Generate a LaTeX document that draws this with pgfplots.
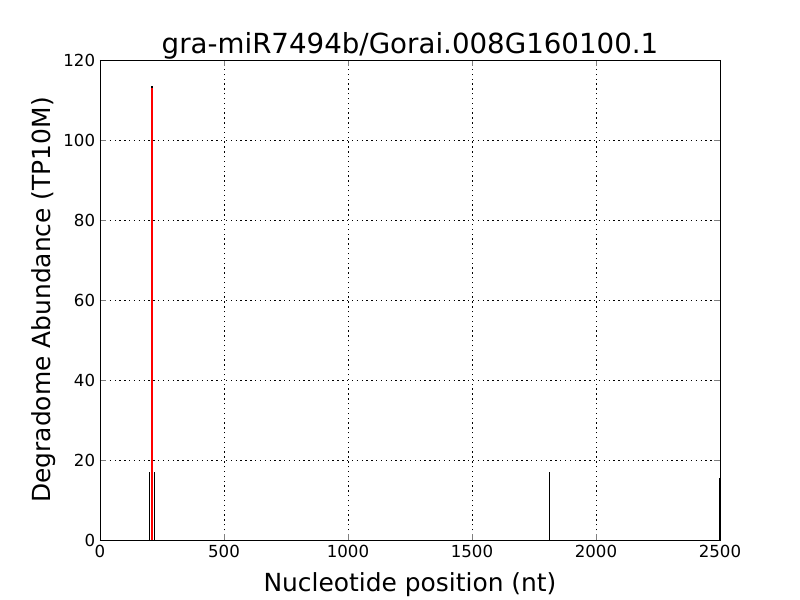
\documentclass[border=0pt]{standalone}
\usepackage{pgfplots}
\pgfplotsset{compat=1.18}
\usepackage{fontspec}
\setmainfont{DejaVu Sans}
\begin{document}
\begin{tikzpicture}
\begin{axis}[
  scale only axis,
  width=6.2in, height=4.8in,
  xmin=0, xmax=2500, ymin=0, ymax=120,
  xtick={0,500,1000,1500,2000,2500},
  ytick={0,20,40,60,80,100,120},
  tick align=inside,
  tick pos=both,
  major tick length=4pt,
  grid=major,
  grid style={black, line width=0.5pt, dash pattern=on 1pt off 2.5pt},
  axis line style={black, line width=0.7pt},
  /pgf/number format/assume math mode=true,
  /pgf/number format/1000 sep={},
  ticklabel style={font=\fontsize{12}{14}\selectfont},
  title={gra-miR7494b/Gorai.008G160100.1},
  title style={font=\fontsize{20}{24}\selectfont, yshift=-9pt},
  xlabel={Nucleotide position (nt)},
  ylabel={Degradome Abundance (TP10M)},
  label style={font=\fontsize{18}{21}\selectfont},
  xlabel style={yshift=-4pt},
  ylabel style={yshift=-1pt},
]
\addplot[ycomb, black, line width=0.8pt, mark=none] coordinates {
  (201,17) (209,53) (211,68) (219,17) (1812,17) (2497,15.4)
};
\addplot[ycomb, black, line width=2pt, mark=none] coordinates {(210,113.4)};
\addplot[red, line width=1.1pt, mark=none] coordinates {(210,0) (210,113)};
\end{axis}
\pgfresetboundingbox
\path ([shift={(-1in,-0.6in)}]current axis.south west) rectangle ([shift={(0.8in,0.6in)}]current axis.north east);
\end{tikzpicture}
\end{document}
